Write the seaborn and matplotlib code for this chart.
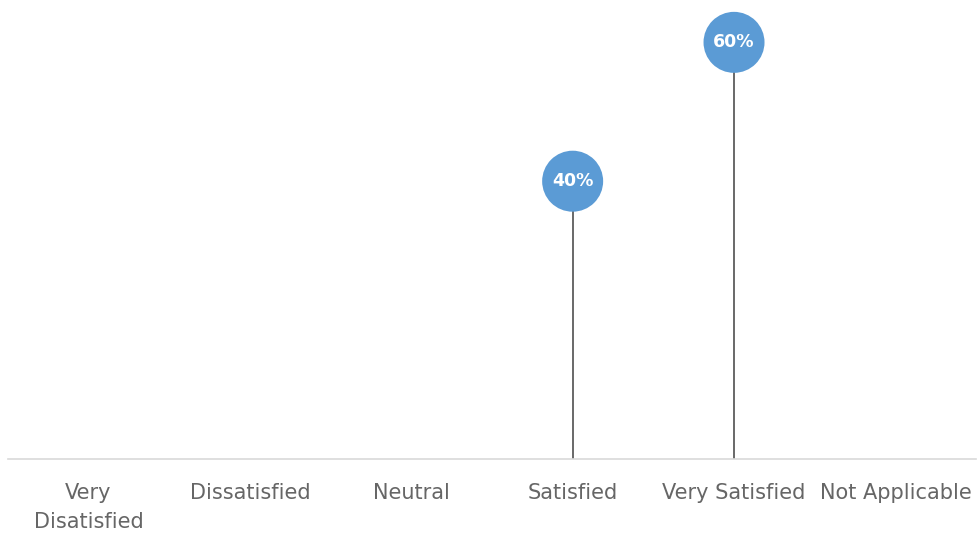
import matplotlib
matplotlib.use("Agg")
import matplotlib.pyplot as plt
import seaborn as sns
import pandas as pd

categories = ["Very\nDisatisfied", "Dissatisfied", "Neutral", "Satisfied", "Very Satisfied", "Not Applicable"]
values = [0, 0, 0, 40, 60, 0]

sns.set_theme(style="white")
plt.rcParams['font.family'] = ['DejaVu Sans']

df = pd.DataFrame({"cat": categories, "val": values})

fig = plt.figure(figsize=(9.8, 5.33), dpi=100)
ax = fig.add_axes([0.008, 0.139, 0.988, 0.861])

blue = "#5B9BD5"
xs = list(range(len(categories)))
for x, v in zip(xs, values):
    if v > 0:
        ax.vlines(x, 0, v, color="#404040", linewidth=1.1, zorder=1)

shown = df[df["val"] > 0]
sns.scatterplot(x=[categories.index(c) for c in shown["cat"]], y=shown["val"], ax=ax,
                s=(61 * 0.72) ** 2, color=blue, edgecolor="none", zorder=3, legend=False)
for x, v in zip(xs, values):
    if v > 0:
        ax.text(x, v, f"{v}%", ha="center", va="center", color="white",
                fontsize=12.5, fontweight="bold", zorder=4)

ax.set_xlim(-0.5, len(categories) - 0.5)
ax.set_ylim(0, 66.1)
ax.set_xticks(xs)
ax.set_xticklabels(categories, fontsize=15, color="#666666", linespacing=1.6)
ax.tick_params(axis="x", length=0, pad=17)
ax.set_yticks([])
ax.set_xlabel("")
ax.set_ylabel("")
for s in ["top", "left", "right"]:
    ax.spines[s].set_visible(False)
ax.spines["bottom"].set_color("#D9D9D9")
ax.spines["bottom"].set_linewidth(1.2)

fig.savefig("out.png", dpi=100, facecolor="white")
